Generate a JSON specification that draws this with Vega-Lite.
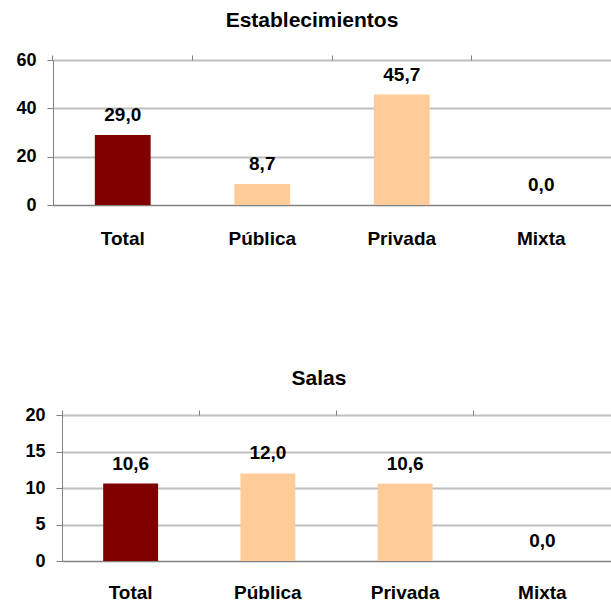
{
  "$schema": "https://vega.github.io/schema/vega-lite/v6.json",
  "padding": {"top": 10, "left": 8, "right": 0, "bottom": 0},
  "background": "white",
  "config": {
    "locale": {"number": {"decimal": ",", "thousands": ".", "grouping": [3], "currency": ["", " €"]}},
    "view": {"stroke": null},
    "font": "Liberation Sans",
    "title": {"font": "Liberation Sans", "fontSize": 21, "fontWeight": "bold", "color": "black", "anchor": "middle"},
    "axis": {"labelFont": "Liberation Sans", "labelFontWeight": "bold", "labelColor": "black", "title": null}
  },
  "spacing": 120,
  "vconcat": [
    {
      "title": {"text": "Establecimientos", "dx": -20, "offset": 20},
      "width": 558,
      "height": 145,
      "data": {"values": [
        {"cat": "Total", "val": 29.0, "grp": "Total"},
        {"cat": "Pública", "val": 8.7, "grp": "Sector"},
        {"cat": "Privada", "val": 45.7, "grp": "Sector"},
        {"cat": "Mixta", "val": 0.0, "grp": "Sector"}
      ]},
      "encoding": {
        "x": {"field": "cat", "type": "nominal", "sort": null,
              "scale": {"paddingInner": 0.6, "paddingOuter": 0.3}},
        "y": {"field": "val", "type": "quantitative",
              "scale": {"domain": [0, 60]},
              "axis": {"values": [0, 20, 40, 60], "labelFontSize": 18, "grid": true, "gridColor": "#c0c0c0", "gridWidth": 2,
                       "domainColor": "#808080", "tickColor": "#808080", "tickSize": 6, "labelPadding": 11, "minExtent": 45}}
      },
      "resolve": {"axis": {"x": "independent"}},
      "layer": [
        {
          "mark": {"type": "bar"},
          "encoding": {
            "x": {"field": "cat", "type": "nominal", "sort": null,
                  "axis": {"labelAngle": 0, "labelFontSize": 19, "ticks": false, "labelPadding": 24, "domainColor": "#808080"}},
            "color": {"field": "grp", "type": "nominal", "scale": {"domain": ["Total", "Sector"], "range": ["#800000", "#FFCC99"]}, "legend": null}
          }
        },
        {
          "mark": {"type": "text", "fontSize": 19, "fontWeight": "bold", "baseline": "bottom", "dy": -10, "color": "black"},
          "encoding": {
            "x": {"field": "cat", "type": "nominal", "sort": null,
                  "axis": {"labels": false, "domain": false, "ticks": true, "tickColor": "#808080", "tickSize": 5, "bandPosition": -0.75}},
            "text": {"field": "val", "type": "quantitative", "format": ".1f"}
          }
        }
      ]
    },
    {
      "title": {"text": "Salas", "dx": -13, "offset": 17},
      "width": 558,
      "height": 146,
      "data": {"values": [
        {"cat": "Total", "val": 10.6, "grp": "Total"},
        {"cat": "Pública", "val": 12.0, "grp": "Sector"},
        {"cat": "Privada", "val": 10.6, "grp": "Sector"},
        {"cat": "Mixta", "val": 0.0, "grp": "Sector"}
      ]},
      "encoding": {
        "x": {"field": "cat", "type": "nominal", "sort": null,
              "scale": {"paddingInner": 0.6, "paddingOuter": 0.3, "range": [9, 558]}},
        "y": {"field": "val", "type": "quantitative",
              "scale": {"domain": [0, 20]},
              "axis": {"values": [0, 5, 10, 15, 20], "labelFontSize": 18, "grid": true, "gridColor": "#c0c0c0", "gridWidth": 2,
                       "domainColor": "#808080", "tickColor": "#808080", "tickSize": 6, "labelPadding": 11, "minExtent": 45, "offset": -9}}
      },
      "resolve": {"axis": {"x": "independent"}},
      "layer": [
        {
          "mark": {"type": "bar"},
          "encoding": {
            "x": {"field": "cat", "type": "nominal", "sort": null,
                  "axis": {"labelAngle": 0, "labelFontSize": 19, "ticks": false, "labelPadding": 22, "domainColor": "#808080"}},
            "color": {"field": "grp", "type": "nominal", "scale": {"domain": ["Total", "Sector"], "range": ["#800000", "#FFCC99"]}, "legend": null}
          }
        },
        {
          "mark": {"type": "text", "fontSize": 19, "fontWeight": "bold", "baseline": "bottom", "dy": -10, "color": "black"},
          "encoding": {
            "x": {"field": "cat", "type": "nominal", "sort": null,
                  "axis": {"labels": false, "domain": false, "ticks": true, "tickColor": "#808080", "tickSize": 5, "bandPosition": -0.75}},
            "text": {"field": "val", "type": "quantitative", "format": ".1f"}
          }
        }
      ]
    }
  ]
}
